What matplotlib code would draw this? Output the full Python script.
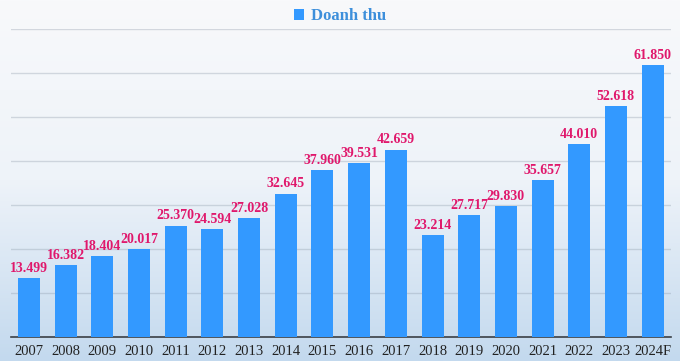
import numpy as np
import matplotlib.pyplot as plt
from matplotlib.colors import LinearSegmentedColormap

years = ['2007', '2008', '2009', '2010', '2011', '2012', '2013', '2014', '2015',
         '2016', '2017', '2018', '2019', '2020', '2021', '2022', '2023', '2024F']
revenue = [13499, 16382, 18404, 20017, 25370, 24594, 27028, 32645, 37960,
           39531, 42659, 23214, 27717, 29830, 35657, 44010, 52618, 61850]
labels = ['13.499', '16.382', '18.404', '20.017', '25.370', '24.594', '27.028', '32.645', '37.960',
          '39.531', '42.659', '23.214', '27.717', '29.830', '35.657', '44.010', '52.618', '61.850']

plt.rcParams['font.family'] = ['Liberation Serif', 'DejaVu Serif']

fig = plt.figure(figsize=(6.8, 3.61), dpi=100)

# background gradient, white at top to light blue at bottom
bg = fig.add_axes([0, 0, 1, 1], zorder=-10)
cmap = LinearSegmentedColormap.from_list('bg', ['#f8f9fb', '#eef3f9', '#c3d9ee'])
grad = np.linspace(0, 1, 256).reshape(-1, 1)
bg.imshow(grad, aspect='auto', cmap=cmap, extent=[0, 1, 0, 1], origin='upper')
bg.axis('off')

ax = fig.add_axes([0.0157, 0.0665, 0.971, 0.852])
ax.patch.set_alpha(0)
x = np.arange(len(years))
bars = ax.bar(x, revenue, width=0.6, color='#3399ff', label='Doanh thu', zorder=3)
for xi, v, t in zip(x, revenue, labels):
    ax.text(xi, v + 700, t, ha='center', va='bottom', color='#e0186c',
            fontsize=10, fontweight='bold')

ax.set_xlim(-0.5, len(years) - 0.5)
ax.set_ylim(0, 70000)
ax.set_yticks(np.arange(0, 70001, 10000))
ax.set_yticklabels([])
ax.tick_params(axis='y', length=0)
ax.tick_params(axis='x', length=0, pad=6, labelsize=10.5, colors='#222222')
ax.set_xticks(x)
ax.set_xticklabels(years)
ax.grid(axis='y', color='#8f9cab', alpha=0.35, linewidth=1, zorder=0)
for s in ['top', 'right', 'left']:
    ax.spines[s].set_visible(False)
ax.spines['bottom'].set_color('#3a3f45')
ax.spines['bottom'].set_linewidth(1.2)

leg = fig.legend(handles=[bars], labels=['Doanh thu'], loc='center', bbox_to_anchor=(0.5, 0.955),
                 frameon=False, handlelength=0.6, handleheight=0.6, handletextpad=0.4,
                 prop={'weight': 'bold', 'size': 12})
for t in leg.get_texts():
    t.set_color('#3d8fdb')

fig.savefig('out.png', dpi=100)
